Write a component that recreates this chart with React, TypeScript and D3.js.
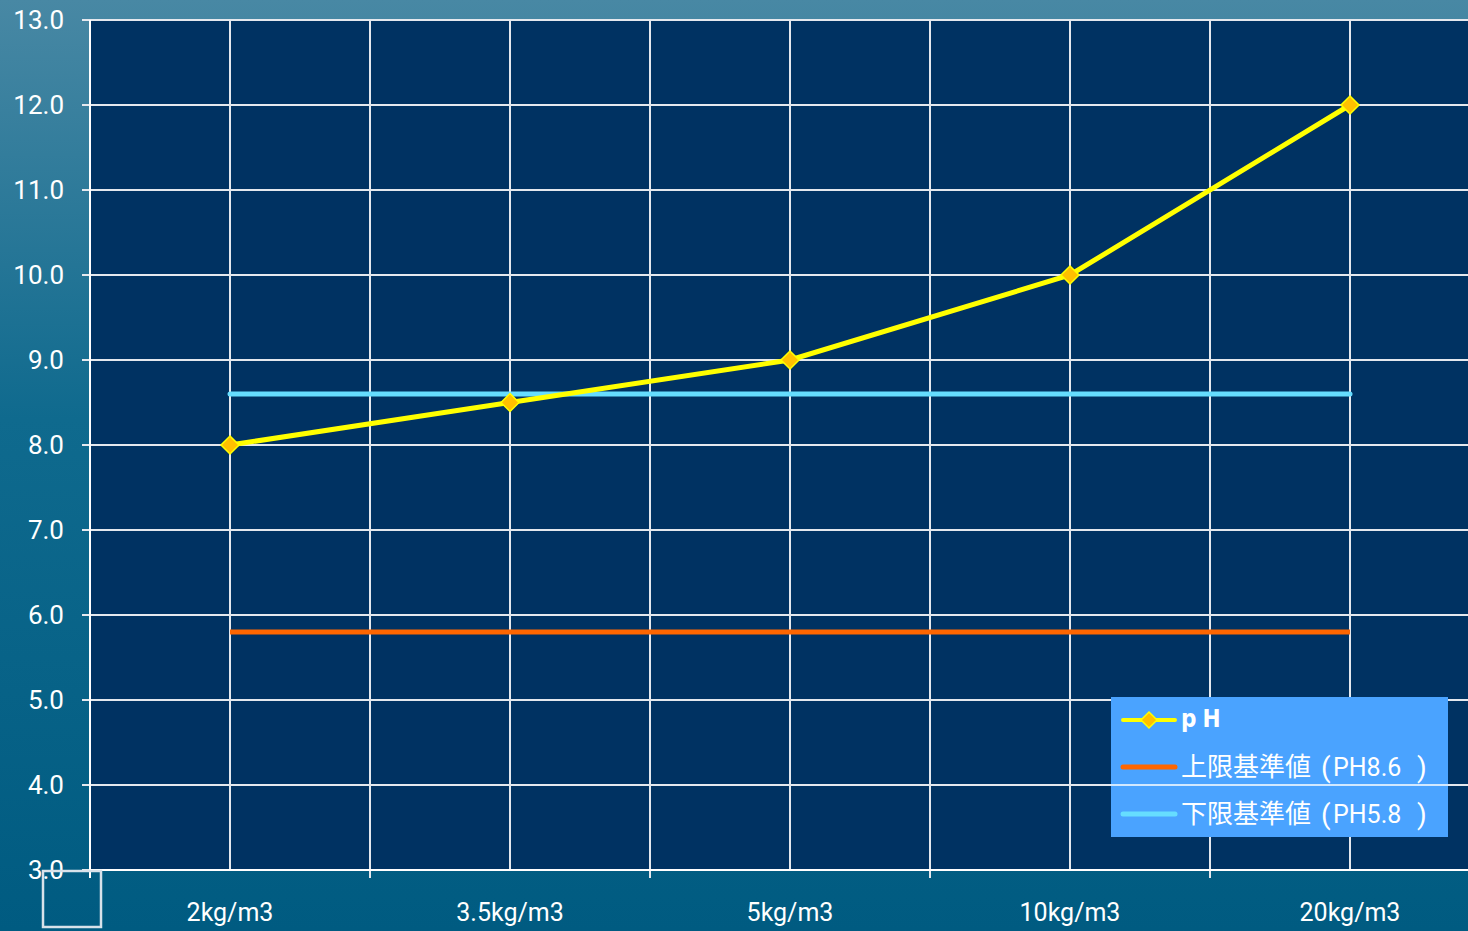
import React from "react";
import * as d3 from "d3";

const categories = ["2kg/m3", "3.5kg/m3", "5kg/m3", "10kg/m3", "20kg/m3"];
const phValues = [8.0, 8.5, 9.0, 10.0, 12.0];
const upperValues = [5.8, 5.8, 5.8, 5.8, 5.8];
const lowerValues = [8.6, 8.6, 8.6, 8.6, 8.6];
const yTicks = [3, 4, 5, 6, 7, 8, 9, 10, 11, 12, 13];
const legendNames = ["pH", "上限基準値", "下限基準値"];
const legendNotes = ["", "PH8.6", "PH5.8"];

const W = 1468;
const H = 931;
const left = 90;
const top = 20;
const bottom = 870;

export default function App() {
  const x = d3.scaleBand<string>().domain(categories).range([left, left + 280 * categories.length]).padding(0);
  const bw = x.bandwidth();
  const cx = (c: string) => (x(c) as number) + bw / 2;
  const y = d3.scaleLinear().domain([3, 13]).range([bottom, top]);
  const line = d3
    .line<number>()
    .x((_, i) => cx(categories[i]))
    .y((d) => y(d));

  const font = "Roboto, 'Noto Sans CJK JP', sans-serif";
  const cjk = "'Noto Sans CJK JP', sans-serif";
  const vGrid: number[] = [];
  categories.forEach((c, i) => {
    if (i > 0) vGrid.push(x(c) as number);
    vGrid.push(cx(c));
  });

  const diamond = (px: number, py: number, r: number) =>
    `M${px},${py - r}L${px + r},${py}L${px},${py + r}L${px - r},${py}Z`;

  const lx = 1111, ly = 697, lw = 337, lh = 140;

  return (
    <div style={{ position: "absolute", left: 0, top: 0 }}>
      <svg width={W} height={H} style={{ display: "block" }}>
        <defs>
          <linearGradient id="bg" x1="0" y1="0" x2="0" y2="1">
            <stop offset="0" stopColor="#4888a4" />
            <stop offset="0.45" stopColor="#0f6a8e" />
            <stop offset="1" stopColor="#005b81" />
          </linearGradient>
        </defs>
        <rect x={0} y={0} width={W} height={H} fill="url(#bg)" />
        <rect x={left} y={top} width={W - left} height={bottom - top} fill="#003262" />
        {yTicks.map((t) => (
          <g key={"h" + t}>
            <line x1={left} x2={W} y1={y(t)} y2={y(t)} stroke="#e4e8ee" strokeWidth={2} />
            <line x1={82} x2={left} y1={y(t)} y2={y(t)} stroke="#e4e8ee" strokeWidth={2} />
            <text x={64} y={y(t)} dy="0.36em" textAnchor="end" fill="#ffffff" fontSize={26} fontFamily={font}>
              {t.toFixed(1)}
            </text>
          </g>
        ))}
        {vGrid.map((gx, i) => (
          <line key={"v" + i} x1={gx} x2={gx} y1={top} y2={bottom} stroke="#e4e8ee" strokeWidth={2} />
        ))}
        {categories.slice(1).map((c) => (
          <line key={"t" + c} x1={x(c) as number} x2={x(c) as number} y1={bottom} y2={bottom + 8} stroke="#e4e8ee" strokeWidth={2} />
        ))}
        <line x1={left} x2={left} y1={top} y2={bottom + 8} stroke="#ffffff" strokeWidth={2} />
        <line x1={left} x2={W} y1={bottom} y2={bottom} stroke="#ffffff" strokeWidth={2} />
        {categories.map((c) => (
          <text key={"xl" + c} x={cx(c)} y={921} textAnchor="middle" fill="#ffffff" fontSize={25} fontFamily={font}>
            {c}
          </text>
        ))}
        <rect x={43} y={871} width={58} height={56} fill="none" stroke="#d8e2ea" strokeWidth={2.5} />
        <path d={line(upperValues) || ""} fill="none" stroke="#ff6600" strokeWidth={5} />
        <path d={line(lowerValues) || ""} fill="none" stroke="#66ddff" strokeWidth={5} strokeLinecap="round" />
        <path d={line(phValues) || ""} fill="none" stroke="#ffff00" strokeWidth={5} />
        {phValues.map((v, i) => (
          <path key={"m" + i} d={diamond(cx(categories[i]), y(v), 9)} fill="#ffc000" stroke="#ffff00" strokeWidth={1.5} />
        ))}
        <rect x={lx} y={ly} width={lw} height={lh} fill="#4aa3ff" />
        <line x1={lx} x2={lx + lw} y1={785} y2={785} stroke="#ffffff" strokeWidth={1.5} />
        {[0, 1, 2].map((i) => {
          const ry = 720 + i * 47;
          const color = ["#ffff00", "#ff6600", "#66ddff"][i];
          return (
            <g key={"lg" + i}>
              <line x1={1123} x2={1175} y1={ry} y2={ry} stroke={color} strokeWidth={i === 0 ? 4 : 5} strokeLinecap="round" />
              {i === 0 && <path d={diamond(1149, ry, 8)} fill="#ffc000" stroke="#ffff00" strokeWidth={1.5} />}
              {i === 0 ? (
                <text x={1181} y={ry - 2} dy="0.36em" fill="#ffffff" fontSize={24} fontWeight="bold" letterSpacing={6} fontFamily="'Liberation Sans Narrow', 'DejaVu Sans Condensed', sans-serif">
                  {legendNames[i]}
                </text>
              ) : (
                <g fill="#ffffff">
                  <text x={1181} y={ry} dy="0.36em" fontSize={26} fontFamily={cjk}>{legendNames[i]}</text>
                  <text x={1321} y={ry} dy="0.36em" fontSize={28} fontFamily={font}>(</text>
                  <text x={1333} y={ry} dy="0.36em" fontSize={25} fontFamily={font}>{legendNotes[i]}</text>
                  <text x={1417} y={ry} dy="0.36em" fontSize={28} fontFamily={font}>)</text>
                </g>
              )}
            </g>
          );
        })}
      </svg>
    </div>
  );
}
